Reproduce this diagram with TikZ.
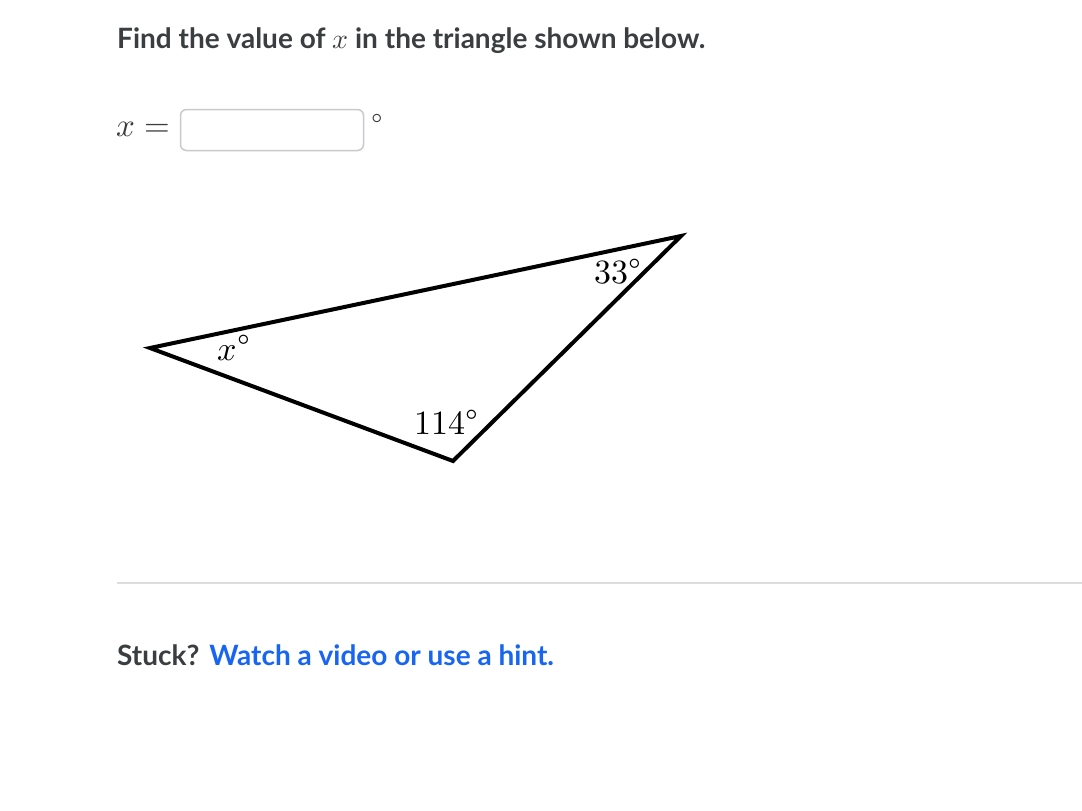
\documentclass[tikz,border=0pt]{standalone}
\usepackage{fontspec}
\usepackage{unicode-math}
\usepackage{graphicx}
\setmainfont{Lato}
\setmathfont{Latin Modern Math}
\definecolor{txt}{HTML}{3B3E40}
\definecolor{link}{HTML}{1865F2}
\definecolor{rule}{HTML}{DDDDDD}
\definecolor{boxb}{HTML}{C8CACC}
\newcommand{\dg}{^{\scalebox{1.3}{$\scriptstyle\circ$}}}
\begin{document}
\begin{tikzpicture}[x=1pt,y=-1pt,
  title/.style={anchor=base west,inner sep=0pt,font=\fontsize{28}{32}\selectfont\bfseries,text=txt},
  lbl/.style={inner sep=0pt,font=\fontsize{34}{40}\selectfont},
  tri/.style={line width=4pt,line join=miter}]
\useasboundingbox[fill=white] (0,0) rectangle (1082,811);
\node[title] (t) at (117,48) {Find the value of \textmd{$x$} in the triangle shown below.};
\node[anchor=base west,inner sep=0pt,font=\fontsize{33}{38}\selectfont,text=txt] (xeq) at (116,136) {$x=$};
\node[draw=boxb,line width=1.5pt,rounded corners=6pt,minimum width=183pt,minimum height=41pt,inner sep=0pt] (box) at (272,130) {};
\node[inner sep=0pt,font=\fontsize{28}{32}\selectfont,text=txt] (deg) at (377,120) {$\circ$};
\coordinate (A) at (150,348);
\coordinate (B) at (681,236);
\coordinate (C) at (453,461);
\draw[tri] (A) -- (B) -- (C) -- cycle;
\node[lbl] (a) at (234,348) {$x\dg$};
\node[lbl] (b) at (618,272) {$33\dg$};
\node[lbl] (c) at (447,422) {$114\dg$};
\draw[rule,line width=2pt] (117,583) coordinate (r1) -- (1082,583) coordinate (r2);
\node[title] (s) at (117,665) {Stuck?\hspace{10pt}\textcolor{link}{Watch a video or use a hint.}};
\end{tikzpicture}
\end{document}
